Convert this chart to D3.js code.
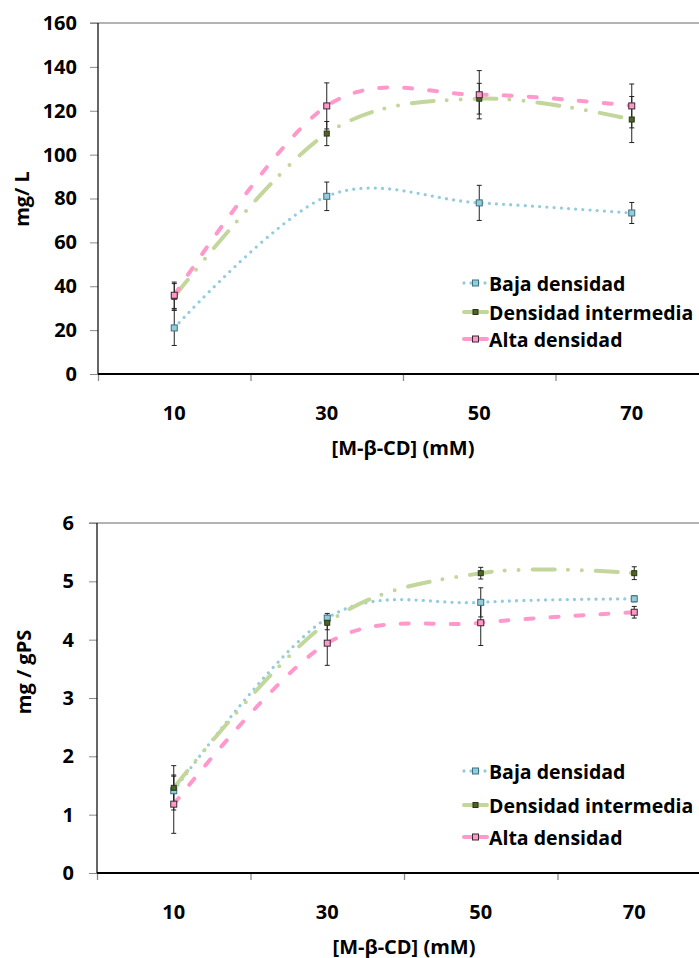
<!DOCTYPE html>
<html lang="es">
<head>
    <meta charset="UTF-8">
    <title>Densidad vs M-β-CD</title>
    <script src="https://d3js.org/d3.v7.min.js"></script>
    <style>
        body { margin: 0; background: #fff; }
        svg { display: block; font-family: "Open Sans", "Noto Sans", sans-serif; font-weight: 700; }
        svg text { font-family: "Open Sans", "Noto Sans", sans-serif; font-weight: 700; fill: #000; }
    </style>
</head>
<body>
    <svg id="chart" width="699" height="958"></svg>

    <script>
        // categories on the x axis, [M-β-CD] in mM
        const categories = ["10", "30", "50", "70"];
        const seriesNames = ["Baja densidad", "Densidad intermedia", "Alta densidad"];

        // top chart: mg / L
        const mgL_baja = [21, 81, 78, 73.4];
        const mgL_baja_err = [8, 6.5, 8, 4.8];
        const mgL_inter = [35.2, 109.6, 125.5, 116];
        const mgL_inter_err = [6, 5.5, 7, 10.5];
        const mgL_alta = [35.9, 122.2, 127.3, 122.2];
        const mgL_alta_err = [6, 10.5, 11, 10];
        const mgL_ticks = [0, 20, 40, 60, 80, 100, 120, 140, 160];

        // bottom chart: mg / gPS
        const gPS_baja = [1.41, 4.37, 4.64, 4.70];
        const gPS_baja_err = [0.25, 0.08, 0.25, 0.05];
        const gPS_inter = [1.46, 4.29, 5.14, 5.14];
        const gPS_inter_err = [0.38, 0.12, 0.1, 0.11];
        const gPS_alta = [1.18, 3.94, 4.29, 4.47];
        const gPS_alta_err = [0.5, 0.38, 0.39, 0.1];
        const gPS_ticks = [0, 1, 2, 3, 4, 5, 6];

        const styles = [
            { line: "#93CDDD", fill: "#93CDDD", stroke: "#3f6f7c", width: 3.3, dash: "0,7.2", size: 6 },
            { line: "#C3D69B", fill: "#4F6228", stroke: "#2b3516", width: 4, dash: "22,13,0,14,0,14", size: 5 },
            { line: "#FF99CC", fill: "#FF99CC", stroke: "#3a2a30", width: 4, dash: "8,17", size: 6 }
        ];

        const svg = d3.select("#chart");

        function drawChart(cfg) {
            const g = svg.append("g");
            const x = d3.scaleBand().domain(categories).range([cfg.left, cfg.right]);
            const xEdge = d3.scaleLinear().domain([0, categories.length]).range([cfg.left, cfg.right]);
            const y = d3.scaleLinear().domain([0, cfg.max]).range([cfg.bottom, cfg.top]);
            const cx = d => x(d) + x.bandwidth() / 2;

            // top border line
            g.append("line")
                .attr("x1", cfg.left - 8).attr("x2", 699)
                .attr("y1", cfg.top).attr("y2", cfg.top)
                .attr("stroke", "#9a9a9a").attr("stroke-width", 1.5);

            // y axis
            const yAxis = g.append("g")
                .attr("transform", `translate(${cfg.left},0)`)
                .call(d3.axisLeft(y).tickValues(cfg.ticks).tickFormat(d3.format("d"))
                    .tickSize(8).tickPadding(cfg.yPad));
            yAxis.select(".domain").remove();
            yAxis.selectAll(".tick line").attr("stroke", "#8a8a8a");
            yAxis.selectAll("text").attr("font-size", 20);
            g.append("line")
                .attr("x1", cfg.left).attr("x2", cfg.left)
                .attr("y1", cfg.top).attr("y2", cfg.bottom)
                .attr("stroke", "#000").attr("stroke-width", 1.2);

            // x axis: tick marks on band edges, labels at band centers
            const xTicks = g.append("g")
                .attr("transform", `translate(0,${cfg.bottom})`)
                .call(d3.axisBottom(xEdge).ticks(categories.length).tickFormat("").tickSize(7));
            xTicks.select(".domain").remove();
            xTicks.selectAll(".tick line").attr("stroke", "#8a8a8a").attr("stroke-width", 1.3);

            const xLabels = g.append("g")
                .attr("transform", `translate(0,${cfg.bottom})`)
                .call(d3.axisBottom(x).tickSize(0).tickPadding(32));
            xLabels.select(".domain").remove();
            xLabels.selectAll("text").attr("font-size", 20);

            g.append("line")
                .attr("x1", cfg.left).attr("x2", 699)
                .attr("y1", cfg.bottom).attr("y2", cfg.bottom)
                .attr("stroke", "#000").attr("stroke-width", 2);

            // axis titles
            g.append("text")
                .attr("x", (cfg.left + cfg.right) / 2).attr("y", cfg.xTitleY)
                .attr("text-anchor", "middle").attr("dominant-baseline", "central")
                .attr("font-size", 20).text("[M-β-CD] (mM)");
            g.append("text")
                .attr("transform", `translate(${cfg.yTitleX},${cfg.yTitleY}) rotate(-90)`)
                .attr("text-anchor", "middle").attr("dominant-baseline", "central")
                .attr("font-size", 20).text(cfg.yTitle);

            // series lines (Excel-like smoothing)
            const line = d3.line()
                .x((d, i) => cx(categories[i]))
                .y(d => y(d))
                .curve(d3.curveCardinal.tension(0));

            cfg.series.forEach((s, k) => {
                const st = styles[k];
                g.append("path")
                    .datum(s.values)
                    .attr("d", line)
                    .attr("fill", "none")
                    .attr("stroke", st.line)
                    .attr("stroke-width", st.width)
                    .attr("stroke-linecap", "round")
                    .attr("stroke-dasharray", st.dash);
            });

            // error bars
            cfg.series.forEach(s => {
                const pts = s.values.map((v, i) => ({ c: categories[i], v: v, e: s.err[i] }));
                const eb = g.append("g").attr("stroke", "#222").attr("stroke-width", 1);
                eb.selectAll(".bar").data(pts).join("line")
                    .attr("x1", d => cx(d.c)).attr("x2", d => cx(d.c))
                    .attr("y1", d => y(d.v - d.e)).attr("y2", d => y(d.v + d.e));
                eb.selectAll(".capTop").data(pts).join("line")
                    .attr("x1", d => cx(d.c) - 2.5).attr("x2", d => cx(d.c) + 2.5)
                    .attr("y1", d => y(d.v + d.e)).attr("y2", d => y(d.v + d.e));
                eb.selectAll(".capBot").data(pts).join("line")
                    .attr("x1", d => cx(d.c) - 2.5).attr("x2", d => cx(d.c) + 2.5)
                    .attr("y1", d => y(d.v - d.e)).attr("y2", d => y(d.v - d.e));
            });

            // markers
            cfg.series.forEach((s, k) => {
                const st = styles[k];
                g.selectAll(null).data(s.values).join("rect")
                    .attr("x", (d, i) => cx(categories[i]) - st.size / 2)
                    .attr("y", d => y(d) - st.size / 2)
                    .attr("width", st.size).attr("height", st.size)
                    .attr("fill", st.fill).attr("stroke", st.stroke).attr("stroke-width", 1);
            });

            // legend
            cfg.legendY.forEach((ly, k) => {
                const st = styles[k];
                const lg = g.append("g");
                lg.append("line")
                    .attr("x1", 464).attr("x2", 487).attr("y1", ly).attr("y2", ly)
                    .attr("stroke", st.line).attr("stroke-width", st.width)
                    .attr("stroke-linecap", "round")
                    .attr("stroke-dasharray", k === 0 ? "0,7" : null);
                lg.append("rect")
                    .attr("x", 475.5 - st.size / 2).attr("y", ly - st.size / 2)
                    .attr("width", st.size).attr("height", st.size)
                    .attr("fill", st.fill).attr("stroke", st.stroke);
                lg.append("text")
                    .attr("x", 489).attr("y", ly)
                    .attr("dominant-baseline", "central")
                    .attr("font-size", 19.5).text(seriesNames[k]);
            });
        }

        drawChart({
            left: 98, right: 708, top: 23, bottom: 374, max: 160, ticks: mgL_ticks, yPad: 13,
            xTitleY: 447, yTitleX: 21, yTitleY: 199, yTitle: "mg/ L",
            legendY: [283, 312, 339],
            series: [
                { values: mgL_baja, err: mgL_baja_err },
                { values: mgL_inter, err: mgL_inter_err },
                { values: mgL_alta, err: mgL_alta_err }
            ]
        });

        drawChart({
            left: 97, right: 711, top: 523, bottom: 873, max: 6, ticks: gPS_ticks, yPad: 15,
            xTitleY: 946, yTitleX: 23, yTitleY: 672, yTitle: "mg / gPS",
            legendY: [771, 805, 837],
            series: [
                { values: gPS_baja, err: gPS_baja_err },
                { values: gPS_inter, err: gPS_inter_err },
                { values: gPS_alta, err: gPS_alta_err }
            ]
        });
    </script>
</body>
</html>
